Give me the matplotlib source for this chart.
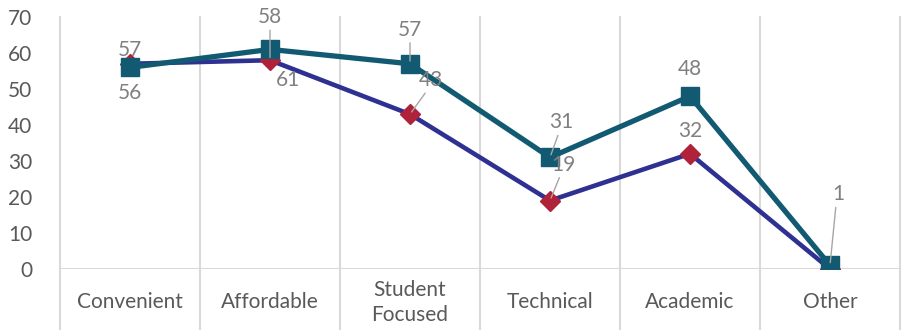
import matplotlib
matplotlib.use('Agg')
import matplotlib.pyplot as plt

plt.rcParams['font.family'] = ['Lato', 'DejaVu Sans']

categories = ['Convenient', 'Affordable', 'Student\nFocused', 'Technical', 'Academic', 'Other']
series_a = [57, 58, 43, 19, 32, 0]    # navy line, red diamonds
series_b = [56, 61, 57, 31, 48, 1]    # teal line, squares

# label text per point, with offset (pixels) and whether a leader line is drawn
labels_a = ['57', '58', '43', '19', '32', None]
offs_a = [(0, 14), (0, 43), (21, 34), (13, 36), (0, 23), None]
lead_a = [False, True, True, True, False, False]
labels_b = ['56', '61', '57', '31', '48', '1']
offs_b = [(0, -26), (18, -31), (0, 34), (11, 35), (0, 27), (8, 71)]
lead_b = [False, False, True, True, False, True]

C_NAVY = '#2E3192'
C_RED = '#B0223A'
C_TEAL = '#125A72'
C_GRID = '#D9D9D9'
C_TICK = '#595959'
C_LAB = '#808080'

fig = plt.figure(figsize=(9.03, 3.3), dpi=100)
ax = fig.add_axes([60 / 903, 1 - 269 / 330, 840 / 903, 252 / 330])

x = list(range(len(categories)))
ax.plot(x, series_a, color=C_NAVY, lw=3.3, marker='D', ms=10,
        mfc=C_RED, mec=C_RED, zorder=3)
ax.plot(x, series_b, color=C_TEAL, lw=3.8, marker='s', ms=13,
        mfc=C_TEAL, mec=C_TEAL, zorder=4)

def put_labels(vals, labs, offs, leads):
    for i, (v, t, o, ld) in enumerate(zip(vals, labs, offs, leads)):
        if t is None:
            continue
        ax.annotate(t, (i, v), xytext=o, textcoords='offset pixels',
                    ha='center', va='center', fontsize=15, color=C_LAB, zorder=6)
        if ld:
            # short leader from just under the label towards the point
            dx, dy = o
            ax.annotate('', (i, v), xytext=(dx * 0.72, dy - 13 if dy > 0 else dy + 13),
                        textcoords='offset pixels',
                        arrowprops=dict(arrowstyle='-', color='#A6A6A6', lw=1.0,
                                        shrinkA=0, shrinkB=2), zorder=5)

put_labels(series_a, labels_a, offs_a, lead_a)
put_labels(series_b, labels_b, offs_b, lead_b)

ax.set_xlim(-0.5, len(categories) - 0.5)
ax.set_ylim(0, 70)
ax.set_yticks(range(0, 71, 10))
ax.set_xticks(x)
ax.set_xticklabels(categories, fontsize=15, color=C_TICK, linespacing=1.3,
                   va='center')
ax.tick_params(axis='y', length=0, labelsize=15, labelcolor=C_TICK, pad=20)
ax.tick_params(axis='x', length=0, pad=24)

for s in ax.spines.values():
    s.set_visible(False)

# category separators run down through the label area
for b in range(len(categories) + 1):
    ax.axvline(b - 0.5, ymin=-0.25, ymax=1, color=C_GRID, lw=1.5,
               clip_on=False, zorder=1)
ax.axhline(0, color=C_GRID, lw=1.5, zorder=1)

fig.savefig('out.png', dpi=100)
